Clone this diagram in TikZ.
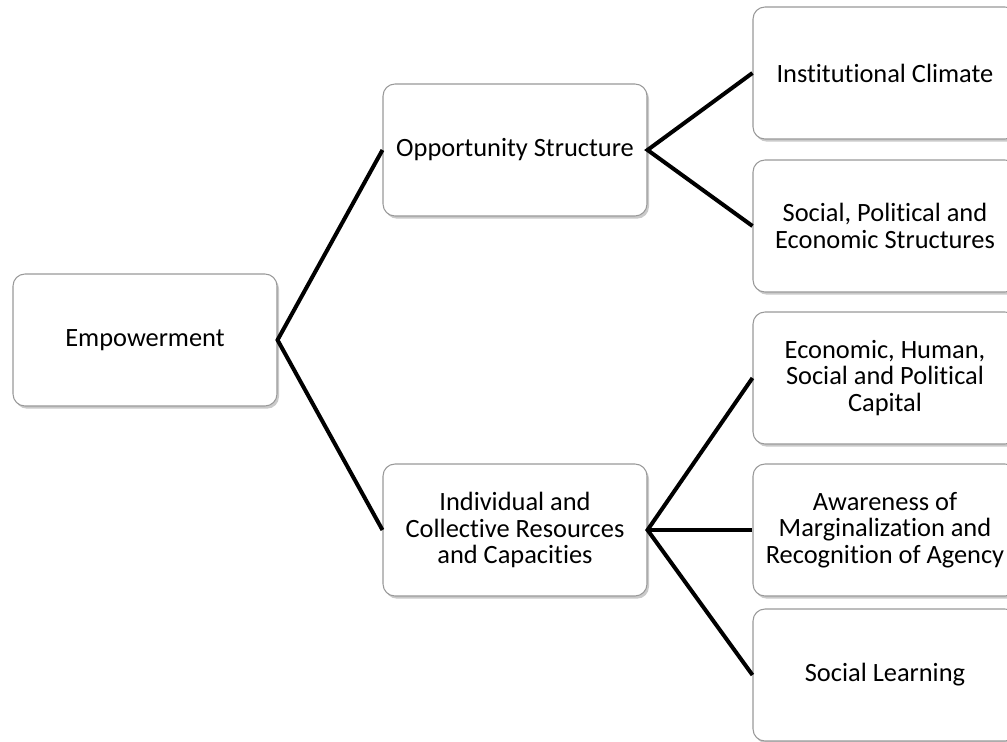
\documentclass[tikz,border=0pt]{standalone}
\usepackage{fontspec}
\setmainfont{Carlito}[Ligatures=NoCommon]
\usetikzlibrary{shadows}

\begin{document}
\begin{tikzpicture}[x=0.75pt,y=-0.75pt,
  box/.style={draw=black!40,line width=0.8pt,fill=white,rounded corners=9pt,
    minimum width=198pt,minimum height=99pt,align=center,inner sep=2pt,
    font=\fontsize{19.8}{20}\selectfont,
    drop shadow={shadow xshift=1.5pt,shadow yshift=-2pt,fill=black!35,opacity=0.6}},
  link/.style={line width=3pt}]
\clip (0,0) rectangle (1007,742);
\node[box] at (145,340) (emp) {Empowerment};
\node[box] at (515,150) (opp) {Opportunity Structure};
\node[box] at (515,530) (ind) {Individual and\\Collective Resources\\and Capacities};
\node[box] at (885,73) (inst) {Institutional Climate};
\node[box] at (885,226) (spe) {Social, Political and\\Economic Structures};
\node[box] at (885,378) (cap) {Economic, Human,\\Social and Political\\Capital};
\node[box] at (885,530) (aware) {Awareness of\\Marginalization and\\Recognition of Agency};
\node[box] at (885,675) (learn) {Social Learning};
\draw[link] (opp.west) -- (emp.east) -- (ind.west);
\draw[link] (inst.west) -- (opp.east) -- (spe.west);
\draw[link] (cap.west) -- (ind.east) -- (learn.west);
\draw[link] (ind.east) -- (aware.west);
\end{tikzpicture}
\end{document}
